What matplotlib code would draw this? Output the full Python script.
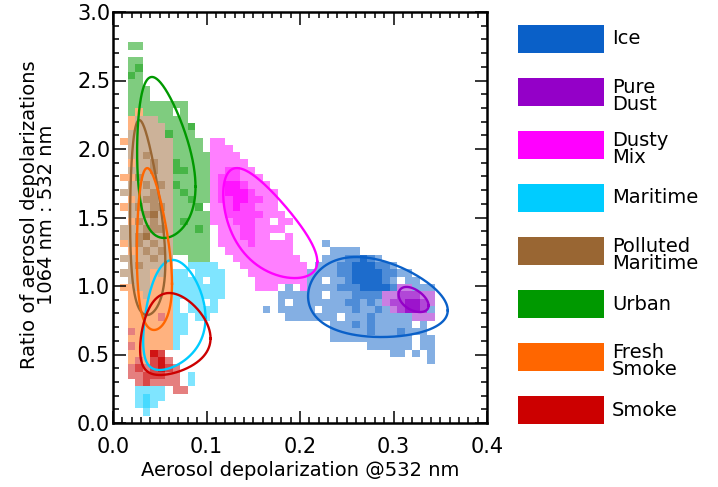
import numpy as np
import matplotlib
matplotlib.use('Agg')
import matplotlib.pyplot as plt
from matplotlib.colors import to_rgb
from matplotlib.patches import Rectangle
from matplotlib.ticker import MultipleLocator, FormatStrFormatter

# 2D histogram bin size
x_bin = 0.008
y_bin = 0.0533
n_cols = 50
n_rows = 57

types = ['Ice', 'Pure\nDust', 'Dusty\nMix', 'Maritime', 'Polluted\nMaritime',
         'Urban', 'Fresh\nSmoke', 'Smoke']
colors = ['#0a60c8', '#9400c8', '#ff00ff', '#00ccff', '#996633',
          '#009900', '#ff6600', '#cc0000']

# occurrence blocks: (first column, top row, rows from top to bottom)
# '.' = no data, '1' = few, '2' = more, '3' = most
ice_cells = (20, 24, [
    "........1",
    ".........1111",
    "........11122321",
    ".......11122333221",
    "......11112233332211",
    "......11.112333321.11",
    ".1.1..11112223333211111",
    "..111111.11122221111.11",
    "..1.11111112212111111.1",
    "1.11111.1111211211111.1",
    "...1111111.1112111111.1",
    ".........11121211111.1",
    ".........1111121112111",
    ".........11111111111.11",
    "..............111111.11",
    ".................11.1.1",
    "......................1",
])
dust_cells = (36, 18, [
    "..11",
    "1122211",
    "1223321",
    ".12332.",
    "....111",
])
dusty_cells = (12, 38, [
    ".11",
    ".111",
    "11111",
    "111111",
    "1112211",
    "11222111",
    "112332111",
    ".123332111",
    ".122332211",
    ".112322111",
    ".1122222111",
    ".11122211.11",
    "..111221111",
    "..1112211..1",
    "..1111211111",
    "...111111111",
    "....111111111",
    ".....111111111",
    "......11111111",
    ".......1111111",
    ".......111...1",
])
maritime_cells = (2, 21, [
    "........1111",
    ".....111.1111",
    ".....11111.11",
    ".....11111111",
    ".....11111111",
    "......1.11.1",
    ".....11.1111",
    "......11.11",
    "......11",
    "......11",
    "......1",
    "......1",
    "",
    "",
    "",
    "........1",
    ".1.1....1",
    ".1111",
    ".1211",
    ".121",
    "..1",
])
urban_cells = (2, 51, [
    "11",
    "",
    "11",
    "12",
    "21",
    "11",
    "111",
    "111",
    "11111111",
    "111111.1",
    "11111111",
    "111111112",
    "111112111",
    "1111111111",
    "1111121111",
    "11111211111",
    "11111221111",
    "11111122111",
    "11111211111",
    "11111121111",
    "11111112111",
    "11111111211",
    "1111111112.",
    "11111111111",
    "11111112111",
    "11111111121",
    "11111111111",
    "11111111111",
    "11111111111",
    "........111",
])
fresh_cells = (1, 42, [
    "..1", ".1", ".11", ".1", "11", ".1", ".1....1", ".1...11", ".1....1",
    "11", ".1", ".1", ".11", "11", ".1", ".11", ".1", ".1", "11", ".11",
    ".1", ".1....1", ".1..1.1", ".111111", "1111111", ".111111", ".111111",
    ".111111", ".111111", ".111111", "..11111", ".111111", "..11111",
    ".11111.", ".11111.", "..1111.", "..111..", "..11...", "",
])
polluted_cells = (1, 41, [
    "..111",
    "..1111",
    ".11111",
    ".111111",
    ".111111",
    ".112111",
    "..11211",
    ".111211",
    "..21111",
    ".112121",
    "1111211",
    "..12211",
    ".121221",
    ".112311",
    "..21211",
    "1112221",
    "1123111",
    ".121211",
    "..12121",
    "1111211",
    ".12111.",
    "1111.1.",
    ".111...",
    "..11...",
    "...1...",
])
smoke_cells = (1, 14, [
    ".....1",
    "",
    ".1",
    "",
    ".1",
    "....32",
    "..1.231",
    ".1212321",
    ".1122211",
    "..121111",
    ".......11",
])

# fitted ellipses (log-log space): geometric centre x, centre y,
# log half width x, log half height y, correlation
ice_ell = (0.2733, 0.872, 0.270, 0.329, -0.18)
dust_ell = (0.3211, 0.897, 0.050, 0.102, -0.45)
dusty_ell = (0.1605, 1.403, 0.3085, 0.2824, -0.62)
maritime_ell = (0.0565, 0.6785, 0.560, 0.562, 0.22)
polluted_ell = (0.0320, 1.320, 0.559, 0.516, -0.23)
urban_ell = (0.0477, 1.847, 0.615, 0.313, -0.22)
fresh_ell = (0.0401, 1.124, 0.4535, 0.504, -0.20)
smoke_ell = (0.0550, 0.5766, 0.640, 0.498, 0.14)

cells = [ice_cells, dust_cells, dusty_cells, maritime_cells, urban_cells,
         fresh_cells, polluted_cells, smoke_cells]
cell_colors = [colors[0], colors[1], colors[2], colors[3], colors[5],
               colors[6], colors[4], colors[7]]
ellipses = [ice_ell, dust_ell, dusty_ell, maritime_ell, polluted_ell,
            urban_ell, fresh_ell, smoke_ell]
shade = {'1': 0.5, '2': 0.72, '3': 0.92}

fig = plt.figure(figsize=(7.18, 4.87), dpi=100)
ax = fig.add_axes([113 / 718, 64 / 487, 374 / 718, 411 / 487])

# build the occurrence image, later types drawn over earlier ones
img = np.ones((n_rows, n_cols, 4))
img[..., 3] = 0
for (c0, top, rows), col in zip(cells, cell_colors):
    rgb = np.array(to_rgb(col))
    for r, line in enumerate(rows):
        for k, ch in enumerate(line):
            if ch == '.':
                continue
            a = shade[ch]
            img[top - r, c0 + k, :3] = 1 - a * (1 - rgb)
            img[top - r, c0 + k, 3] = 1
ax.imshow(img, origin='lower', extent=[0, n_cols * x_bin, 0, n_rows * y_bin],
          aspect='auto', interpolation='nearest', zorder=1)

# ellipses were fitted in log space, so they look egg-shaped on linear axes
t = np.linspace(0, 2 * np.pi, 400)
for (gx, gy, lx, ly, rho), col in zip(ellipses, colors):
    phi = np.arccos(rho)
    ax.plot(gx * np.exp(lx * np.cos(t)), gy * np.exp(ly * np.cos(t - phi)),
            color=col, lw=1.7, zorder=3)

ax.set_xlim(0, 0.4)
ax.set_ylim(0, 3.0)
ax.xaxis.set_major_locator(MultipleLocator(0.1))
ax.xaxis.set_minor_locator(MultipleLocator(0.01))
ax.yaxis.set_major_locator(MultipleLocator(0.5))
ax.yaxis.set_minor_locator(MultipleLocator(0.1))
ax.xaxis.set_major_formatter(FormatStrFormatter('%.1f'))
ax.yaxis.set_major_formatter(FormatStrFormatter('%.1f'))
ax.tick_params(which='both', direction='in', top=True, right=True, width=1.1, color='black')
ax.tick_params(which='major', length=9, labelsize=15)
ax.tick_params(which='minor', length=4.5)
ax.tick_params(axis='x', which='major', pad=10)
ax.tick_params(axis='y', which='major', pad=2)
for sp in ax.spines.values():
    sp.set_linewidth(1.8)

ax.set_xlabel('Aerosol depolarization @532 nm', fontsize=14, labelpad=3)
fig.text(38 / 718, 1 - 215 / 487, 'Ratio of aerosol depolarizations\n1064 nm : 532 nm',
         rotation=90, ha='center', va='center', fontsize=14, linespacing=0.85,
         multialignment='center')

# legend boxes on the right
for i, (name, col) in enumerate(zip(types, colors)):
    yc = 39 + 53 * i
    fig.patches.append(Rectangle((518 / 718, 1 - (yc + 14) / 487), 86 / 718, 28 / 487,
                                 transform=fig.transFigure, facecolor=col,
                                 edgecolor='none'))
    nlines = name.count('\n') + 1
    fig.text(612 / 718, 1 - (yc + 4 * (nlines - 1)) / 487, name, ha='left', va='center',
             fontsize=14, linespacing=0.9)

fig.savefig('out.png', dpi=100)
